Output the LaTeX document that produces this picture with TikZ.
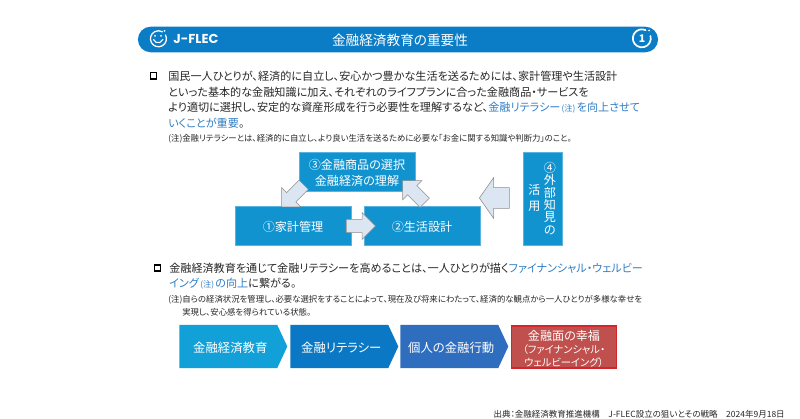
\documentclass[tikz,border=0pt]{standalone}
\usepackage{fontspec}
\setmainfont{Noto Sans CJK JP}[RawFeature={+palt}]
\newfontfamily\logofont{Poppins}
\usepackage{tikz}
\usetikzlibrary{positioning, shapes.arrows, shapes.misc, shapes.symbols}

\definecolor{headblue}{HTML}{0B7CC6}
\definecolor{boxblue}{HTML}{1193D0}
\definecolor{arrowfill}{HTML}{DCE6F2}
\definecolor{linkblue}{HTML}{2E7DC4}
\definecolor{inktext}{HTML}{262626}
\definecolor{stepone}{HTML}{12A0D8}
\definecolor{steptwo}{HTML}{0A78C4}
\definecolor{stepthree}{HTML}{2F6EBF}
\definecolor{wellred}{HTML}{C0504D}
\definecolor{wellborder}{HTML}{D0262C}

\newcommand{\hl}[1]{\textcolor{linkblue}{#1}}
\newcommand{\chu}{{\fontsize{5.8}{6}\selectfont\,(注)\,}}

\begin{document}
\begin{tikzpicture}[
  x=0.025cm, y=-0.025cm,
  bodyline/.style={anchor=west, inner sep=0pt, text=inktext, font=\fontsize{7.9}{9}\selectfont},
  noteline/.style={anchor=west, inner sep=0pt, text=inktext, font=\fontsize{5.97}{7}\selectfont},
  bullet/.style={draw=black, line width=1pt, fill=white, inner sep=0pt, minimum size=0.16cm},
  flowbox/.style={fill=boxblue, draw=boxblue!70!white, line width=0.3pt, text=white, inner sep=0pt, align=center,
                  minimum width=2.9cm, minimum height=0.98cm, font=\fontsize{8.6}{11.4}\selectfont},
  blockarrow/.style={single arrow, draw=black!45, fill=arrowfill, line width=0.4pt, inner xsep=0pt,
                     single arrow tip angle=90},
  stepsig/.style={signal, signal to=east, signal from=nowhere, signal pointer angle=130, text=white,
                  inner sep=0pt, minimum height=1.075cm, minimum width=2.7cm, anchor=west, text height=0.34cm,
                  execute at begin node=\hspace*{2.8pt}, font=\fontsize{8.8}{11}\selectfont}
]
  \useasboundingbox (0,0) rectangle (800,419);

  % Header
  \node[rounded rectangle, fill=headblue, minimum width=13cm, minimum height=0.64cm, inner sep=0pt] (headbar) at (398,39.5) {};
  \node[text=white, inner sep=0pt, font=\fontsize{9.7}{11}\selectfont] (headtitle) at (400,40) {金融経済教育の重要性};
  \node[text=white, inner sep=0pt, anchor=west, font=\logofont\bfseries\fontsize{9.2}{10}\selectfont] (logotext) at (173,39) {J-FLEC};
  \draw[white, line width=0.9pt, line cap=round] (165.5,35) arc (-28:300:8);
  \fill[white] (155,36) circle (1) (161,36) circle (1) (164.5,31) circle (1);
  \draw[white, line width=0.8pt, line cap=round] (153.5,39.5) arc (160:20:5);
  \node[text=white, inner sep=0pt, font=\bfseries\fontsize{7.5}{9}\selectfont] (pageno) at (642,39) {1};
  \draw[white, line width=1.2pt, line cap=round] (650.5,36) arc (-15:295:9);
  \fill[white] (649,30.5) circle (1);

  % First paragraph
  \node[bullet] (bulletone) at (153.5,76) {};
  \node[bodyline] (lineone) at (168,76) {国民一人ひとりが、経済的に自立し、安心かつ豊かな生活を送るためには、家計管理や生活設計};
  \node[bodyline] (linetwo) at (168,92) {といった基本的な金融知識に加え、それぞれのライフプランに合った金融商品・サービスを};
  \node[bodyline] (linethree) at (168,108) {より適切に選択し、安定的な資産形成を行う必要性を理解するなど、\hl{金融リテラシー\chu を向上させて}};
  \node[bodyline] (linefour) at (168,123) {\hl{いくことが重要}。};
  \node[noteline] (noteone) at (168,139) {(注)金融リテラシーとは、経済的に自立し、より良い生活を送るために必要な「お金に関する知識や判断力」のこと。};

  % Cycle of boxes
  \node[flowbox] (select) at (357,171.5) {\rule{0pt}{0.32cm}③金融商品の選択\\金融経済の理解};
  \node[flowbox, text height=0.32cm] (household) at (293,225.5) {①家計管理};
  \node[flowbox, text height=0.32cm] (lifeplan) at (422,225.5) {②生活設計};
  \node[flowbox, minimum width=0.98cm, minimum height=2.325cm] (outside) at (542.5,198.5) {};
  \node[text=white, inner sep=0pt, align=center, font=\fontsize{8.6}{8.75}\selectfont] (outsidea) at (550,198.5) {④\\外\\部\\知\\見\\の};
  \node[text=white, inner sep=0pt, align=center, font=\fontsize{8.6}{11}\selectfont] (outsideb) at (534.5,198) {活\\用};

  \node[blockarrow, rotate=225, inner ysep=0.155cm, minimum width=0.665cm, minimum height=0.78cm, single arrow head extend=0.175cm] (arrthree) at (295,193.5) {};
  \node[blockarrow, rotate=135, inner ysep=0.155cm, minimum width=0.665cm, minimum height=0.78cm, single arrow head extend=0.175cm] (arrtwo) at (416,194) {};
  \node[blockarrow, inner ysep=0.16cm, minimum width=0.65cm, minimum height=0.73cm, single arrow head extend=0.165cm] (arrone) at (357.5,226) {};
  \node[blockarrow, rotate=180, single arrow tip angle=110, inner ysep=0.25cm, minimum width=1cm, minimum height=0.75cm, single arrow head extend=0.25cm] (arrfour) at (498,198) {};

  % Second paragraph
  \node[bullet] (bullettwo) at (157.5,268) {};
  \node[bodyline] (linefive) at (169,268) {金融経済教育を通じて金融リテラシーを高めることは、一人ひとりが描く\hl{ファイナンシャル・ウェルビー}};
  \node[bodyline] (linesix) at (169,284) {\hl{イング\chu の向上}に繋がる。};
  \node[noteline] (notetwo) at (168,300) {(注)自らの経済状況を管理し、必要な選択をすることによって、現在及び将来にわたって、経済的な観点から一人ひとりが多様な幸せを};
  \node[noteline] (notethree) at (182,312) {実現し、安心感を得られている状態。};

  % Steps
  \node[stepsig, fill=stepone] (educate) at (179,346.5) {金融経済教育};
  \node[stepsig, fill=steptwo] (literacy) at (290,346.5) {金融リテラシー};
  \node[stepsig, fill=stepthree] (action) at (400,346.5) {個人の金融行動};
  \node[fill=wellred, draw=wellborder, line width=0.8pt, text=white, inner sep=0pt, align=center,
        minimum width=2.62cm, minimum height=1.05cm, font=\fontsize{8.6}{9.3}\selectfont] (wellbeing) at (564,347)
        {\rule{0pt}{0.37cm}金融面の幸福\\{\fontsize{7.3}{9.3}\selectfont （ファイナンシャル・}\\{\fontsize{7.3}{9.3}\selectfont ウェルビーイング）}};

  % Source
  \node[anchor=east, inner sep=0pt, text=inktext, font=\fontsize{6.05}{7}\selectfont] (source) at (785,414) {出典：金融経済教育推進機構　J-FLEC設立の狙いとその戦略　2024年9月18日};
\end{tikzpicture}
\end{document}
